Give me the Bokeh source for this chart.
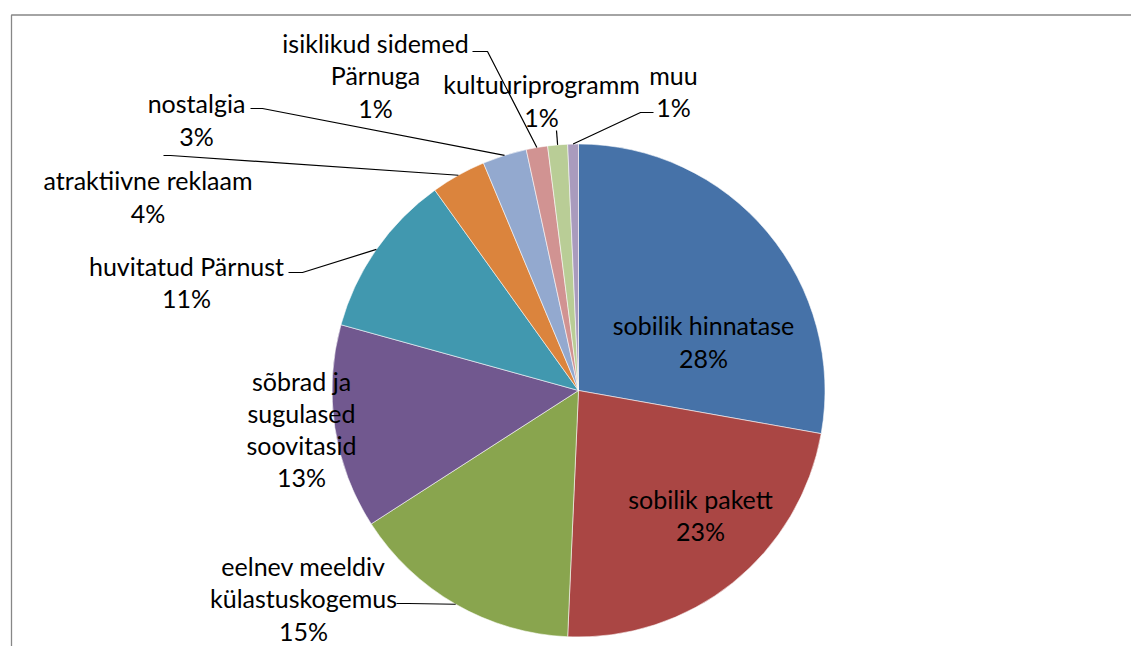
import numpy as np
from bokeh.plotting import figure
from bokeh.models import Range1d, ColumnDataSource
from bokeh.core.properties import value
from bokeh.embed import file_html
from bokeh.resources import INLINE

# ---- data ----
categories = ["sobilik hinnatase", "sobilik pakett", "eelnev meeldiv\nkülastuskogemus",
              "sõbrad ja\nsugulased\nsoovitasid", "huvitatud Pärnust", "atraktiivne reklaam",
              "nostalgia", "isiklikud sidemed\nPärnuga", "kultuuriprogramm", "muu"]
shares = [27.8, 22.9, 15.2, 13.4, 10.8, 3.6, 2.9, 1.4, 1.3, 0.7]
colors = ["#4672A8", "#AA4644", "#89A54E", "#71588F", "#4198AF",
          "#DB843D", "#93A9CF", "#D19392", "#B9CD96", "#A99BBD"]

# ---- layout (page pixel coordinates) ----
W, H = 1131, 646
def cx(px): return px
def cy(py): return H - py

center = (578, 390)
R = 246.5
label_pos = [(703, 341), (700, 514.5), (303, 598), (301, 428.5), (186, 281.5),
             (147.5, 196), (196, 119), (375, 75), (541, 100), (673, 90.5)]
# leader lines: (start, elbow) in page coords, None for no leader
leaders = [None, None, ((396, 603), (408, 603)), None, ((288, 272), (302, 272)),
           ((163, 155), (170, 155)), ((250, 108), (262, 108)), ((472, 51), (487, 51)),
           ((556, 130), (556, 130)), ((653, 112), (640, 112))]

vals = np.array(shares, dtype=float)
frac = vals / vals.sum()
cum = np.concatenate([[0], np.cumsum(frac)])
start = np.pi / 2 - 2 * np.pi * cum[:-1]
end = np.pi / 2 - 2 * np.pi * cum[1:]
mid = (start + end) / 2

p = figure(width=W, height=H, output_backend="svg", toolbar_location=None,
           x_range=Range1d(0, W), y_range=Range1d(0, H), min_border=0)
p.axis.visible = False
p.grid.visible = False
p.outline_line_color = None
p.background_fill_color = "white"

# chart frame (top and left edges visible)
p.line([cx(11), cx(11), W], [0, cy(14.5), cy(14.5)], line_color="#878787", line_width=1.3)

src = ColumnDataSource(dict(start=start, end=end, color=colors))
p.wedge(x=cx(center[0]), y=cy(center[1]), radius=R, radius_units="screen",
        start_angle="start", end_angle="end", direction="clock",
        fill_color="color", line_color="white", line_width=0.8, line_alpha=0.7, source=src)

# leader lines
for i, ld in enumerate(leaders):
    if ld is None:
        continue
    ex = cx(center[0]) + R * np.cos(mid[i])
    ey = cy(center[1]) + R * np.sin(mid[i])
    (sx, sy), (bx, by) = ld
    p.line([cx(sx), cx(bx), ex], [cy(sy), cy(by), ey], line_color="black", line_width=1.2)

# labels
texts = [f"{c}\n{int(round(v))}%" for c, v in zip(categories, vals / vals.sum() * 100)]
lsrc = ColumnDataSource(dict(x=[cx(a) for a, b in label_pos], y=[cy(b) for a, b in label_pos], t=texts))
p.text(x="x", y="y", text="t", source=lsrc, text_align="center", text_baseline="middle",
       text_font=value("Lato"), text_font_size="25px", text_color="black", text_line_height=1.07)

open("out.html", "w").write(file_html(p, INLINE))
